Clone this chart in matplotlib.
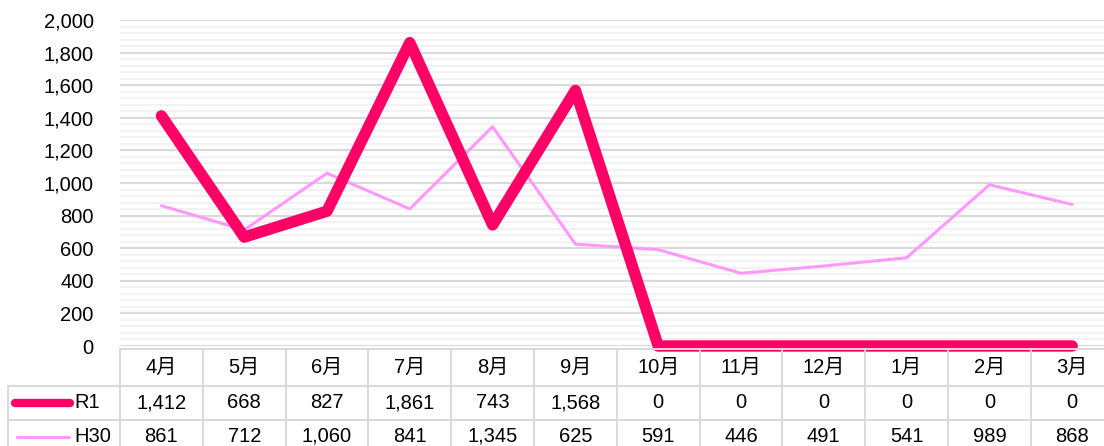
import matplotlib
matplotlib.use("Agg")
import matplotlib.pyplot as plt
from matplotlib.ticker import MultipleLocator, FuncFormatter

plt.rcParams['font.family'] = ['Liberation Sans', 'Noto Sans CJK JP', 'DejaVu Sans']

months = ['4月', '5月', '6月', '7月', '8月', '9月', '10月', '11月', '12月', '1月', '2月', '3月']
r1 = [1412, 668, 827, 1861, 743, 1568, 0, 0, 0, 0, 0, 0]
h30 = [861, 712, 1060, 841, 1345, 625, 591, 446, 491, 541, 989, 868]
series_names = ['R1', 'H30']

C_R1 = '#FF0066'
C_H30 = '#FF99FF'
GRID_MAJ = '#D9D9D9'
GRID_MIN = '#F2F2F2'

W, H = 1104, 446
fig = plt.figure(figsize=(W / 100, H / 100), dpi=100)

x0, x1 = 120, 1113.6
ytop, ybot = 20, 346
ax = fig.add_axes([x0 / W, (H - ybot) / H, (x1 - x0) / W, (ybot - ytop) / H])
xs = list(range(len(months)))
ax.set_xlim(-0.5, len(months) - 0.5)
ax.set_ylim(0, 2000)
ax.yaxis.set_major_locator(MultipleLocator(200))
ax.yaxis.set_minor_locator(MultipleLocator(40))
ax.yaxis.set_major_formatter(FuncFormatter(lambda v, p: f'{int(v):,}'))
ax.grid(axis='y', which='minor', color=GRID_MIN, lw=1.5)
ax.grid(axis='y', which='major', color=GRID_MAJ, lw=1.5)
ax.set_axisbelow(True)
ax.tick_params(axis='y', which='both', length=0, labelsize=14.5, pad=19)
ax.tick_params(axis='x', which='both', length=0, labelbottom=False)
for s in ax.spines.values():
    s.set_visible(False)

ax.plot(xs, h30, color=C_H30, lw=2.2, solid_joinstyle='round', solid_capstyle='round', clip_on=False, zorder=3)
ax.plot(xs, r1, color=C_R1, lw=8.2, solid_joinstyle='round', solid_capstyle='round', clip_on=False, zorder=4)

# data table
t_top, t_bot = 349, 456
rows = [349, 386, 420, 456]
tax = fig.add_axes([x0 / W, (H - t_bot) / H, (x1 - x0) / W, (t_bot - t_top) / H])
tax.set_xlim(-0.5, len(months) - 0.5)
tax.set_ylim(t_bot, t_top)
tax.axis('off')
lw = 1.4
cw = (x1 - x0) / len(months)
def px2x(px):
    return -0.5 + (px - x0) / cw
leg_left = px2x(8)
tax.plot([-0.5, 11.5], [rows[0], rows[0]], color=GRID_MAJ, lw=lw, clip_on=False, zorder=1)
for r in rows[1:3]:
    tax.plot([leg_left, 11.5], [r, r], color=GRID_MAJ, lw=lw, clip_on=False)
for i in range(len(months) + 1):
    tax.plot([i - 0.5, i - 0.5], [rows[0], rows[3]], color=GRID_MAJ, lw=lw, clip_on=False)
tax.plot([leg_left, leg_left], [rows[1], rows[3]], color=GRID_MAJ, lw=lw, clip_on=False)

fs = 14.5
for i, m in enumerate(months):
    tax.text(i, (rows[0] + rows[1]) / 2, m, ha='center', va='center', fontsize=fs)
    tax.text(i, (rows[1] + rows[2]) / 2, f'{r1[i]:,}', ha='center', va='center', fontsize=fs)
    tax.text(i, (rows[2] + rows[3]) / 2 - 2, f'{h30[i]:,}', ha='center', va='center', fontsize=fs)

tax.plot([px2x(15), px2x(70)], [403, 403], color=C_R1, lw=6, solid_capstyle='round', clip_on=False)
tax.plot([px2x(17), px2x(69)], [437, 437], color=C_H30, lw=2.2, solid_capstyle='round', clip_on=False)
tax.text(px2x(74), (rows[1] + rows[2]) / 2, series_names[0], ha='left', va='center', fontsize=fs, clip_on=False)
tax.text(px2x(74), (rows[2] + rows[3]) / 2 - 2, series_names[1], ha='left', va='center', fontsize=fs, clip_on=False)

fig.savefig('out.png', dpi=100)
